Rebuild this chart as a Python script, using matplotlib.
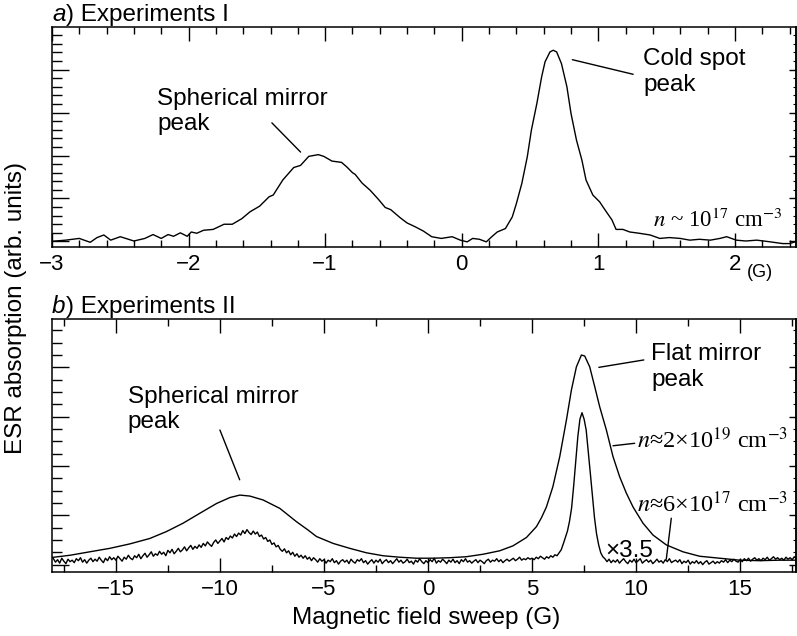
import numpy as np
import matplotlib
matplotlib.use('Agg')
import matplotlib.pyplot as plt
from matplotlib.ticker import MultipleLocator, NullFormatter

plt.rcParams['font.family'] = 'Liberation Sans'
plt.rcParams['mathtext.fontset'] = 'stix'
plt.rcParams['axes.linewidth'] = 1.1

# a) Experiments I  (field sweep in G, absorption in arb. units)
top_x = [-3.01, -2.90, -2.80, -2.72, -2.67, -2.62, -2.57, -2.50, -2.40, -2.32,
         -2.26, -2.20, -2.15, -2.11, -2.06, -2.01, -1.98, -1.94, -1.89, -1.82,
         -1.74, -1.68, -1.61, -1.55, -1.48, -1.41, -1.38, -1.31, -1.23, -1.18,
         -1.12, -1.05, -1.01, -0.95, -0.88, -0.84, -0.80, -0.78, -0.73, -0.67,
         -0.61, -0.56, -0.52, -0.45, -0.40, -0.34, -0.28, -0.22, -0.15, -0.07,
         -0.01, 0.04, 0.08, 0.13, 0.18, 0.22, 0.26, 0.32, 0.37, 0.40,
         0.44, 0.48, 0.51, 0.55, 0.585, 0.61, 0.646, 0.67, 0.695, 0.73,
         0.77, 0.80, 0.84, 0.88, 0.91, 0.96, 1.01, 1.05, 1.10, 1.13,
         1.18, 1.23, 1.30, 1.38, 1.45, 1.52, 1.60, 1.67, 1.74, 1.82,
         1.89, 1.94, 2.01, 2.08, 2.16, 2.26, 2.35, 2.40, 2.46]
top_y = [0.00, 0.03, 0.07, -0.02, 0.09, 0.15, 0.03, 0.11, 0.01, 0.07,
         0.16, 0.07, 0.16, 0.12, 0.20, 0.12, 0.22, 0.19, 0.26, 0.28,
         0.40, 0.40, 0.53, 0.69, 0.82, 1.04, 1.08, 1.43, 1.72, 1.77,
         1.98, 2.02, 1.98, 1.87, 1.84, 1.73, 1.60, 1.56, 1.36, 1.19,
         0.98, 0.79, 0.74, 0.55, 0.43, 0.34, 0.24, 0.11, 0.07, 0.11,
         0.03, -0.01, 0.07, 0.05, -0.01, 0.11, 0.22, 0.30, 0.57, 0.88,
         1.35, 1.97, 2.59, 3.21, 3.83, 4.18, 4.41, 4.45, 4.41, 4.14,
         3.60, 2.98, 2.36, 1.89, 1.43, 1.08, 0.92, 0.73, 0.50, 0.28,
         0.28, 0.22, 0.19, 0.15, 0.07, 0.09, 0.07, 0.03, 0.05, 0.03,
         0.07, 0.11, 0.03, 0.01, 0.03, -0.01, -0.05, -0.05, 0.01]

# b) Experiments II, n ~ 2e19 cm^-3 trace
flat_x = [-18.17, -17.2, -16.25, -15.29, -14.33, -13.37, -12.57, -11.77, -10.97, -10.16,
          -9.52, -9.04, -8.56, -7.92, -7.12, -6.32, -5.76, -5.36, -4.56, -3.76,
          -2.96, -2.16, -1.36, -0.56, 0.24, 1.04, 1.84, 2.64, 3.44, 4.08,
          4.73, 5.21, 5.45, 5.69, 6.0, 6.33, 6.65, 6.89, 7.13, 7.37,
          7.53, 7.77, 8.01, 8.25, 8.57, 8.89, 9.21, 9.53, 9.85, 10.33,
          10.81, 11.45, 12.25, 13.05, 14.01, 14.97, 15.93, 16.89, 17.75]
flat_y = [0.14, 0.19, 0.26, 0.33, 0.42, 0.53, 0.67, 0.84, 1.04, 1.24,
          1.36, 1.41, 1.39, 1.31, 1.14, 0.87, 0.70, 0.57, 0.43, 0.33,
          0.24, 0.18, 0.15, 0.13, 0.13, 0.14, 0.16, 0.21, 0.28, 0.38,
          0.55, 0.77, 0.95, 1.17, 1.58, 2.19, 2.93, 3.54, 4.01, 4.25,
          4.23, 4.01, 3.61, 3.20, 2.73, 2.19, 1.78, 1.45, 1.17, 0.84,
          0.60, 0.40, 0.26, 0.17, 0.13, 0.09, 0.08, 0.09, 0.09]

# b) n ~ 6e17 cm^-3 trace (x3.5), one reading every 0.1 G from -18 G
low_start, low_step = -18.0, 0.1
low_y = [
    0.12, 0.05, 0.10, 0.03, 0.13, 0.07, 0.02, 0.11, 0.06, 0.09,
    0.04, 0.12, 0.08, 0.14, 0.05, 0.10, 0.03, 0.09, 0.13, 0.06,
    0.11, 0.07, 0.15, 0.09, 0.04, 0.13, 0.08, 0.16, 0.10, 0.14,
    0.09, 0.17, 0.12, 0.07, 0.15, 0.11, 0.19, 0.13, 0.10, 0.18,
    0.14, 0.21, 0.12, 0.18, 0.23, 0.15, 0.20, 0.26, 0.17, 0.22,
    0.19, 0.27, 0.21, 0.25, 0.18, 0.29, 0.24, 0.31, 0.22, 0.27,
    0.33, 0.26, 0.30, 0.36, 0.28, 0.34, 0.39, 0.31, 0.37, 0.33,
    0.40, 0.35, 0.43, 0.38, 0.46, 0.41, 0.37, 0.45, 0.50, 0.43,
    0.48, 0.53, 0.46, 0.55, 0.51, 0.58, 0.54, 0.62, 0.57, 0.64,
    0.60, 0.69, 0.63, 0.71, 0.65, 0.61, 0.68, 0.62, 0.66, 0.57,
    0.60, 0.52, 0.55, 0.47, 0.50, 0.41, 0.44, 0.36, 0.39, 0.31,
    0.27, 0.32, 0.24, 0.28, 0.20, 0.25, 0.17, 0.22, 0.15, 0.19,
    0.13, 0.18, 0.11, 0.15, 0.08, 0.14, 0.10, 0.05, 0.12, 0.07,
    0.10, 0.03, 0.09, 0.06, 0.12, 0.04, 0.08, 0.01, 0.07, 0.10,
    0.05, 0.09, 0.02, 0.11, 0.06, 0.03, 0.10, 0.07, 0.12, 0.04,
    0.08, 0.01, 0.06, 0.10, 0.03, 0.09, 0.05, 0.11, 0.02, 0.07,
    0.10, 0.04, 0.08, 0.02, 0.07, 0.12, 0.05, 0.09, 0.03, 0.06,
    0.11, 0.04, 0.07, 0.01, 0.09, 0.05, 0.12, 0.06, 0.02, 0.08,
    0.04, 0.10, 0.06, 0.13, 0.03, 0.08, 0.05, 0.11, 0.07, 0.02,
    0.09, 0.05, 0.11, 0.04, 0.08, 0.02, 0.10, 0.06, 0.12, 0.05,
    0.08, 0.03, 0.07, 0.10, 0.04, 0.09, 0.06, 0.02, 0.08, 0.11,
    0.05, 0.09, 0.07, 0.12, 0.06, 0.10, 0.04, 0.08, 0.11, 0.07,
    0.10, 0.13, 0.08, 0.11, 0.15, 0.09, 0.12, 0.10, 0.14, 0.11,
    0.13, 0.10, 0.15, 0.12, 0.17, 0.14, 0.11, 0.16, 0.13, 0.18,
    0.15, 0.20, 0.18, 0.24, 0.30, 0.42, 0.55, 0.68, 0.88, 1.15,
    1.60, 2.10, 2.60, 2.95, 3.08, 2.95, 2.73, 2.30, 1.85, 1.40,
    0.95, 0.62, 0.40, 0.24, 0.16, 0.12, 0.06, 0.11, 0.04, 0.09,
    0.05, 0.10, 0.03, 0.08, 0.12, 0.06, 0.02, 0.09, 0.05, 0.11,
    0.04, 0.08, 0.12, 0.03, 0.07, 0.10, 0.05, 0.09, 0.02, 0.06,
    0.11, 0.05, 0.08, 0.03, 0.10, 0.06, 0.12, 0.04, 0.07, 0.09,
    0.05, 0.10, 0.02, 0.07, 0.04, 0.09, 0.01, 0.06, 0.03, 0.08,
    0.02, 0.06, 0.00, 0.05, 0.08, 0.01, 0.04, 0.07, 0.02, 0.06,
    0.03, 0.08, 0.05, 0.10, 0.04, 0.09, 0.06, 0.11, 0.07, 0.05,
    0.10, 0.06, 0.12, 0.08, 0.13, 0.07, 0.11, 0.14, 0.09, 0.12,
    0.08, 0.13, 0.10, 0.15, 0.09, 0.12, 0.16, 0.11, 0.14, 0.10,
    0.13, 0.09, 0.15, 0.11, 0.14, 0.10, 0.16, 0.12, 0.09, 0.13]
low_x = low_start + low_step * np.arange(len(low_y))

FS = 17.5
NFS = 17.5


def style(ax, xmaj, xmin, ymin):
    ax.xaxis.set_major_locator(MultipleLocator(xmaj))
    ax.xaxis.set_minor_locator(MultipleLocator(xmin))
    ax.yaxis.set_major_locator(MultipleLocator(1))
    ax.yaxis.set_minor_locator(MultipleLocator(ymin))
    ax.yaxis.set_major_formatter(NullFormatter())
    ax.tick_params(which='both', direction='in', top=True, right=False,
                   labelsize=16, width=1)
    ax.tick_params(axis='x', which='major', length=10, pad=5)
    ax.tick_params(axis='x', which='minor', length=5)
    ax.tick_params(axis='y', which='major', length=12)
    ax.tick_params(axis='y', which='minor', length=7)
    # short ticks on the right edge
    sec = ax.secondary_yaxis('right')
    sec.yaxis.set_major_locator(MultipleLocator(1))
    sec.yaxis.set_minor_locator(MultipleLocator(ymin))
    sec.tick_params(which='major', direction='in', length=5, width=1, labelright=False)
    sec.tick_params(which='minor', direction='in', length=2, width=0.8, labelright=False)


def leader(ax, p0, p1):
    ax.annotate('', xy=p1, xytext=p0,
                arrowprops=dict(arrowstyle='-', lw=1, color='black',
                                shrinkA=0, shrinkB=0))


fig = plt.figure(figsize=(7.97, 6.36), dpi=100)
ax1 = fig.add_axes([0.0652, 0.6116, 0.934, 0.3459])
ax2 = fig.add_axes([0.0652, 0.1006, 0.934, 0.3978])

# ---- panel a
ax1.plot(top_x, top_y, color='black', lw=1)
ax1.set_xlim(-3.0, 2.45)
ax1.set_ylim(-0.13, 4.99)
style(ax1, 1, 0.2, 0.2)

ax1.text(-2.23, 3.03, 'Spherical mirror\npeak', fontsize=FS, ha='left', va='center')
leader(ax1, (-1.39, 2.76), (-1.18, 2.08))
ax1.text(1.33, 3.94, 'Cold spot\npeak', fontsize=FS, ha='left', va='center')
leader(ax1, (0.81, 4.23), (1.255, 3.89))
ax1.text(2.35, 0.34, r'$n$ ~ 10$^{17}$ cm$^{-3}$', fontsize=16.5,
         family='Liberation Serif', ha='right', va='baseline')
fig.text(747 / 797, 0.5645, '(G)', fontsize=13, ha='left', va='baseline')

# ---- panel b
ax2.plot(flat_x, flat_y, color='black', lw=1)
ax2.plot(low_x, low_y, color='black', lw=1)
ax2.set_xlim(-18.07, 17.7)
ax2.set_ylim(-0.15, 4.98)
style(ax2, 5, 2.5, 0.25)

ax2.text(-14.42, 3.14, 'Spherical mirror\npeak', fontsize=FS, ha='left', va='center')
leader(ax2, (-10.0, 2.73), (-9.05, 1.72))
ax2.text(10.73, 4.01, 'Flat mirror\npeak', fontsize=FS, ha='left', va='center')
leader(ax2, (8.21, 4.0), (10.37, 4.15))
ax2.text(10.05, 2.37, r'$n$≈2×10$^{19}$ cm$^{-3}$', fontsize=NFS,
         family='Liberation Serif', ha='left', va='baseline')
leader(ax2, (8.89, 2.41), (9.93, 2.46))
ax2.text(10.05, 1.07, r'$n$≈6×10$^{17}$ cm$^{-3}$', fontsize=NFS,
         family='Liberation Serif', ha='left', va='baseline')
leader(ax2, (11.69, 0.94), (11.45, 0.11))
ax2.text(8.54, 0.16, '×3.5', fontsize=FS, ha='left', va='baseline')

# ---- panel titles and axis labels
for ypos, letter, rest in [(0.967, 'a', ') Experiments I'),
                           (0.508, 'b', ') Experiments II')]:
    t = fig.text(52 / 797, ypos, letter, fontsize=FS, style='italic', va='baseline')
    ax1.annotate(rest, xy=(1, 0), xycoords=t, fontsize=FS, va='bottom',
                 ha='left', annotation_clip=False)

fig.text(0.02, 0.516, 'ESR absorption (arb. units)', fontsize=FS,
         rotation=90, ha='center', va='center')
fig.text(0.535, 0.0189, 'Magnetic field sweep (G)', fontsize=FS,
         ha='center', va='baseline')

fig.savefig('out.png', dpi=100)
